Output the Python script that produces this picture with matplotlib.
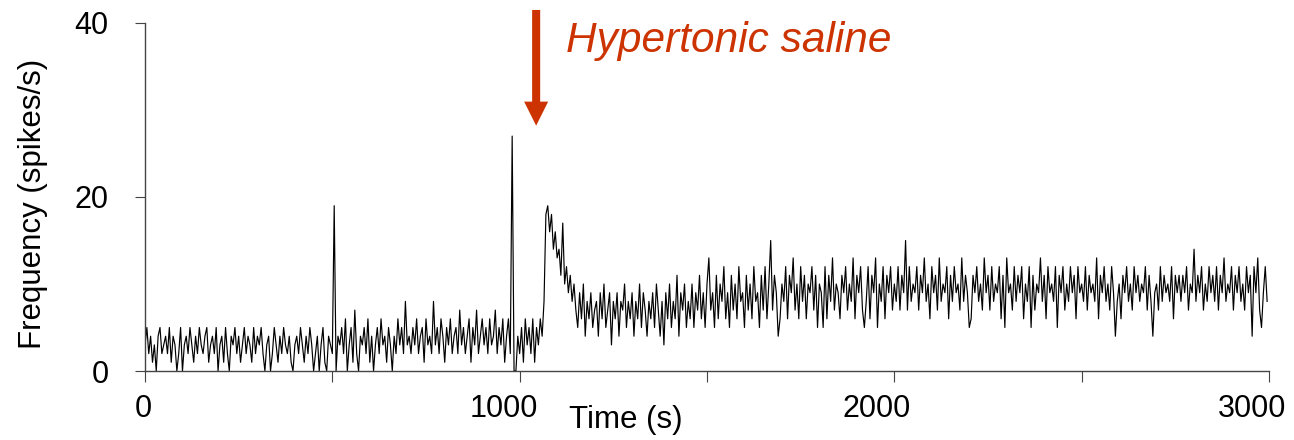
import numpy as np
import matplotlib
matplotlib.use("Agg")
import matplotlib.pyplot as plt
from matplotlib.transforms import ScaledTranslation

plt.rcParams["font.family"] = ["Liberation Sans", "DejaVu Sans"]

# Firing rate in 5 s bins (spikes/s), 0-3000 s
bin_width = 5

baseline_early = [
    3, 5, 2, 4, 1, 3, 0, 4, 5, 2,
    3, 4, 2, 5, 1, 4, 3, 0, 2, 5,
    0, 3, 4, 2, 5, 3, 1, 4, 2, 5,
    3, 2, 4, 5, 1, 3, 4, 2, 5, 0,
    3, 4, 1, 5, 2, 0, 4, 3, 5, 2,
    4, 1, 3, 5, 2, 4, 3, 1, 5, 2,
    4, 3, 5, 2, 0, 3, 4, 0, 2, 5,
    3, 1, 4, 2, 5, 3, 2, 4, 1, 0,
    3, 4, 2, 5, 3, 1, 4, 2, 5, 3,
    0, 2, 4, 0, 3, 5, 1, 0, 4, 3,
    2,
]
burst_1 = [19]
baseline_mid = [
    0, 4, 3, 5, 2, 6, 0, 3, 5, 1,
    7, 2, 0, 4, 3, 5, 2, 6, 1, 4,
    0, 3, 5, 2, 6, 3, 4, 1, 5, 3,
    0, 4, 2, 6, 3, 5, 2, 8, 3, 4,
    2, 5, 3, 6, 2, 4, 5, 1, 6, 3,
    4, 2, 8, 3, 5, 2, 6, 4, 1, 5,
    3, 6, 2, 4, 5, 2, 7, 3, 5, 2,
    4, 6, 1, 5, 3, 7, 2, 4, 6, 3,
    5, 2, 6, 3, 4, 7, 2, 5, 3, 6,
    1, 4, 6, 2,
]
burst_2 = [27]
baseline_late = [0, 0, 4, 2, 5, 1, 6, 3, 5, 2, 6, 1, 5, 3, 6, 4]
saline_response = [8, 18, 19, 16, 18, 14, 16, 13, 14, 11, 17, 10, 12, 9, 11, 8, 10, 7]
plateau = [
    5, 9, 6, 10, 4, 8, 6, 9, 5, 7,
    8, 4, 9, 6, 10, 5, 7, 9, 3, 8,
    6, 9, 4, 8, 7, 10, 5, 8, 6, 9,
    4, 8, 6, 10, 5, 9, 7, 4, 8, 6,
    9, 5, 10, 7, 4, 8, 3, 9, 6, 10,
    5, 8, 6, 11, 4, 9, 7, 10, 5, 8,
]
sustained = [
    6, 10, 5, 9, 7, 11, 6, 9, 5, 10,
    13, 7, 9, 5, 11, 6, 10, 8, 12, 6,
    9, 5, 11, 7, 10, 6, 12, 8, 9, 5,
    11, 7, 10, 6, 12, 8, 9, 5, 11, 7,
    12, 6, 10, 15, 7, 11, 9, 4, 6, 10,
    8, 12, 6, 11, 9, 13, 7, 10, 6, 12,
    8, 11, 6, 10, 9, 12, 7, 11, 5, 10,
    9, 5, 12, 6, 11, 8, 13, 7, 10, 9,
    6, 11, 9, 12, 7, 10, 8, 13, 6, 11,
    9, 12, 7, 5, 8, 12, 6, 11, 9, 13,
    5, 10, 8, 12, 6, 11, 9, 12, 7, 10,
    8, 12, 7, 11, 9, 15, 7, 12, 8, 10,
    9, 12, 7, 11, 9, 13, 8, 10, 6, 12,
    9, 11, 7, 13, 8, 10, 9, 12, 6, 11,
    8, 12, 9, 10, 7, 13, 8, 11, 9, 5,
    6, 11, 9, 12, 8, 10, 7, 13, 9, 11,
    7, 12, 8, 10, 9, 12, 6, 11, 5, 13,
    9, 10, 7, 12, 8, 11, 9, 12, 6, 10,
    8, 12, 5, 11, 7, 10, 9, 13, 8, 11,
    6, 12, 9, 10, 8, 12, 5, 11, 9, 12,
    7, 10, 8, 12, 9, 11, 6, 12, 9, 10,
    8, 12, 7, 11, 9, 10, 8, 13, 6, 11,
    9, 12, 8, 10, 7, 12, 9, 4, 8, 10,
    6, 11, 9, 12, 8, 10, 7, 12, 9, 11,
    8, 10, 9, 12, 7, 11, 8, 4, 9, 10,
    7, 12, 8, 11, 9, 10, 8, 12, 6, 11,
    9, 11, 8, 11, 9, 12, 7, 10, 9, 14,
    8, 11, 9, 12, 7, 10, 8, 12, 9, 11,
    8, 12, 7, 11, 9, 13, 8, 10, 9, 12,
    7, 11, 9, 12, 8, 10, 7, 12, 9, 11,
    4, 12, 9, 13, 7, 5, 9, 12, 8,
]

frequency = np.array(baseline_early + burst_1 + baseline_mid + burst_2
                     + baseline_late + saline_response + plateau + sustained)
time_s = np.arange(len(frequency)) * bin_width

x_ticks = [0, 500, 1000, 1500, 2000, 2500, 3000]
x_tick_labels = ["0", "", "1000", "", "2000", "", "3000"]
y_ticks = [0, 20, 40]
injection_time = 1044
annotation_text = "Hypertonic saline"
accent = "#CC3300"

fig = plt.figure(figsize=(12.94, 4.40), dpi=100)
ax = fig.add_axes([145 / 1294, 69 / 440, 1124 / 1294, 348 / 440])

ax.plot(time_s, frequency, color="black", lw=0.85)

ax.set_xlim(0, 3000)
ax.set_ylim(0, 40)
ax.spines["top"].set_visible(False)
ax.spines["right"].set_visible(False)
for side in ("left", "bottom"):
    ax.spines[side].set_color("#444444")
    ax.spines[side].set_linewidth(1.0)

ax.set_xticks(x_ticks, labels=x_tick_labels)
ax.set_yticks(y_ticks)
ax.tick_params(axis="x", direction="out", length=7.9, width=0.8, color="#444444",
               pad=9, labelsize=22)
ax.tick_params(axis="y", direction="out", length=7.2, width=0.8, color="#444444",
               pad=19, labelsize=22)

# nudge the time labels slightly left of their ticks
shifts_px = [-2, 0, -16, 0, -18, 0, -17]
for lab, dx in zip(ax.get_xticklabels(), shifts_px):
    lab.set_transform(lab.get_transform() + ScaledTranslation(dx / 100, 0, fig.dpi_scale_trans))

ax.set_ylabel("Frequency (spikes/s)", fontsize=22.5)
ax.yaxis.set_label_coords(-0.0863, 0.48)
fig.text(626 / 1294, 1 - 420 / 440, "Time (s)", fontsize=22.5, ha="center", va="center")

# injection marker
ax.annotate("", xy=(injection_time, 28.2), xytext=(injection_time, 41.5),
            arrowprops=dict(arrowstyle="simple,head_length=17.3,head_width=17.3,tail_width=5.8",
                            mutation_scale=1, color=accent, shrinkA=0, shrinkB=0, lw=0),
            annotation_clip=False)
fig.text(566 / 1294, 1 - 52 / 440, annotation_text, fontsize=30.5, style="italic",
         color=accent, ha="left", va="baseline")

fig.savefig("out.png", dpi=100)
